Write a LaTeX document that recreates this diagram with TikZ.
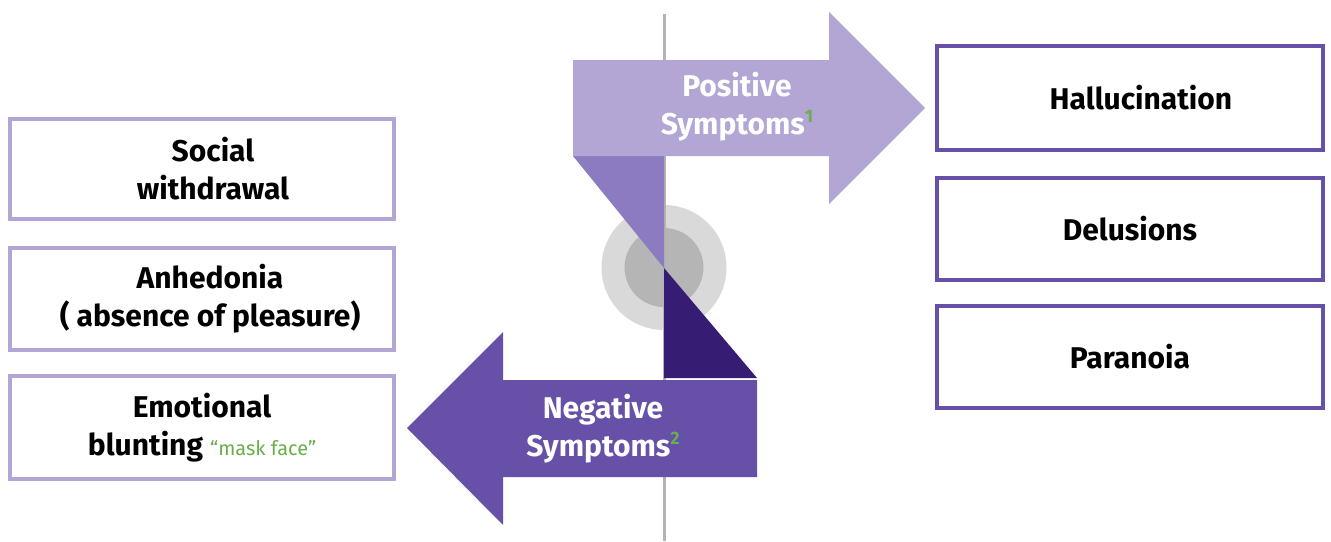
\documentclass[tikz,border=0pt]{standalone}
\usepackage{fontspec}
\setmainfont{Fira Sans}
\definecolor{posc}{HTML}{B3A5D4}
\definecolor{foldl}{HTML}{8C7BC0}
\definecolor{negc}{HTML}{6750A8}
\definecolor{foldd}{HTML}{361C72}
\definecolor{greenc}{HTML}{6AAF4C}
\definecolor{lgray}{HTML}{D9D9D9}
\definecolor{mgray}{HTML}{B5B5B5}
\definecolor{axisc}{HTML}{B3B3B3}
\newcommand{\sym}[1]{\raisebox{0.42em}{\fontsize{18}{18}\selectfont\bfseries\textcolor{greenc}{#1}}}
\begin{document}
\begin{tikzpicture}[x=1pt,y=-1pt,
  txt/.style={align=center,font=\fontsize{30}{38}\selectfont\bfseries},
  lbox/.style={txt,draw=posc,line width=4pt,fill=white,minimum width=384pt,inner sep=0pt},
  rbox/.style={txt,draw=negc,line width=4pt,fill=white,minimum width=386pt,inner sep=0pt},
  arrtext/.style={txt,text=white}]
\useasboundingbox (0,0) rectangle (1331,541);
% center disc
\fill[lgray] (664,267.5) circle (62.5);
\fill[mgray] (664,267.5) circle (39.5);
% axis
\draw[axisc,line width=3pt] (664,14) -- (664,541);
% folds
\fill[foldl] (573,156) -- (664,156) -- (664,268) -- cycle;
\fill[foldd] (664,268) -- (757,378) -- (664,378) -- cycle;
% arrows
\fill[posc] (573,60) -- (829,60) -- (829,12) -- (925,108) -- (829,204) -- (829,156) -- (573,156) -- cycle;
\fill[negc] (757,380) -- (503,380) -- (503,332) -- (407,428) -- (503,525) -- (503,477) -- (757,477) -- cycle;
\node[arrtext] (pos) at (737,107) {Positive\\Symptoms\sym{1}};
\node[arrtext] (neg) at (603,429) {Negative\\Symptoms\sym{2}};
% left boxes
\node[lbox,minimum height=100pt] (b1) at (202,169) {\hspace*{22pt}Social\\\hspace*{22pt}withdrawal};
\node[lbox,minimum height=102pt] (b2) at (202,299) {\hspace*{16pt}Anhedonia\\\hspace*{16pt}( absence of pleasure)};
\node[lbox,minimum height=103pt] (b3) at (202,427.5) {Emotional\\blunting {\fontsize{20}{20}\selectfont\mdseries\textcolor{greenc}{“mask face”}}};
% right boxes
\node[rbox,minimum height=104pt] (r1) at (1130,98) {\hspace*{22pt}Hallucination};
\node[rbox,minimum height=102pt] (r2) at (1130,229) {Delusions};
\node[rbox,minimum height=102pt] (r3) at (1130,357) {Paranoia};
\end{tikzpicture}
\end{document}
